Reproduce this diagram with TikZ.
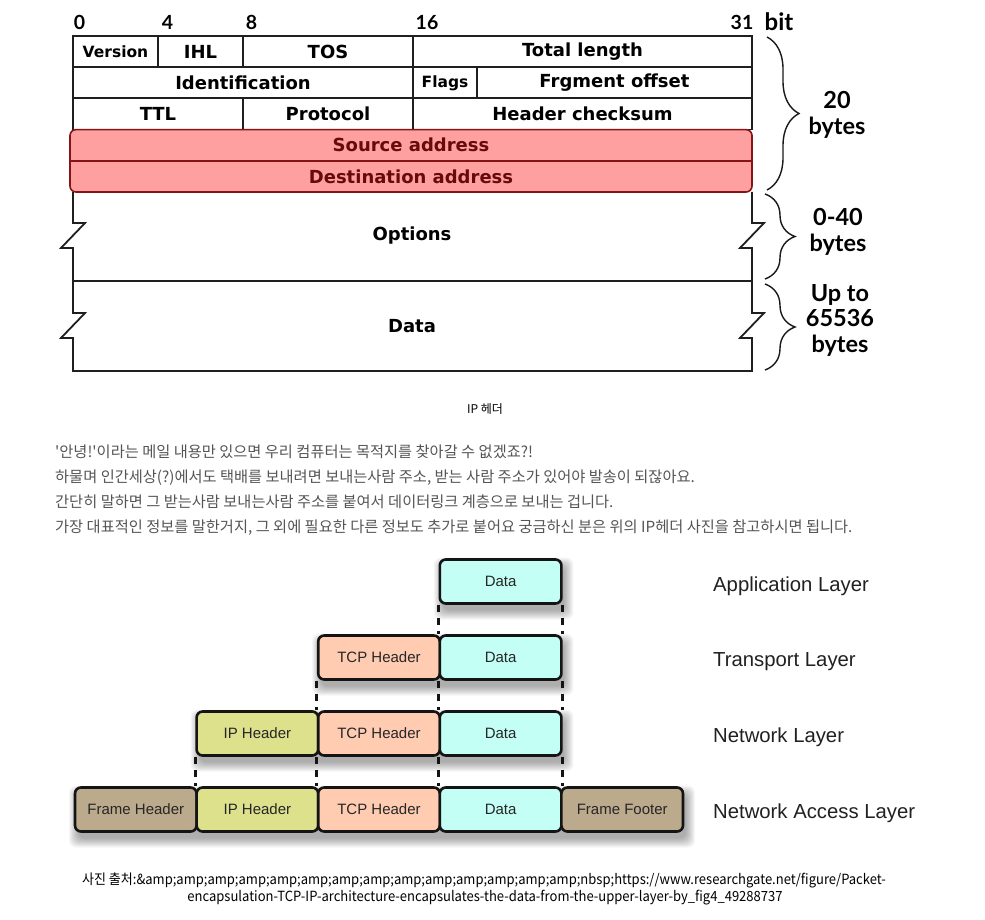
\documentclass[tikz,border=0pt]{standalone}
\usepackage{fontspec}
\setmainfont{DejaVu Sans}
\newfontfamily\verd{DejaVu Sans}
\newfontfamily\latof{Lato}
\newfontfamily\krf[Ligatures=TeXOff]{Noto Sans CJK KR}
\newfontfamily\krcap[FakeStretch=0.93]{Noto Sans CJK KR}
\newfontfamily\arialf{Liberation Sans}
\usetikzlibrary{decorations.pathreplacing}
\definecolor{redfill}{RGB}{255,160,160}
\definecolor{redline}{RGB}{135,20,20}
\definecolor{redtext}{RGB}{105,10,10}
\definecolor{datacol}{RGB}{195,255,245}
\definecolor{tcpcol}{RGB}{255,204,178}
\definecolor{ipcol}{RGB}{221,225,140}
\definecolor{framecol}{RGB}{188,170,140}
\definecolor{kgray}{RGB}{85,85,85}
\newcommand{\softshadow}[4]{%
  \foreach \r in {0,...,9}{%
    \fill[black, opacity=0.035, rounded corners=7pt] ({#1+3-\r},{#2+7-\r}) rectangle ({#3+3+\r},{#4+7+\r});
  }}
\begin{document}
\begin{tikzpicture}[x=1pt,y=-1pt,
 tline/.style={draw=black!88,line width=1.8pt},
 cell/.style={tline, minimum height=31.2pt, inner sep=0pt, font=\verd\bfseries\fontsize{18}{20}\selectfont},
 smallcell/.style={cell, font=\verd\bfseries\fontsize{15.5}{18}\selectfont},
 redcell/.style={minimum height=31.2pt, minimum width=682pt, inner sep=0pt, text=redtext, font=\verd\bfseries\fontsize{18}{20}\selectfont},
 bigtext/.style={inner sep=0pt, font=\verd\bfseries\fontsize{18}{20}\selectfont},
 bitlab/.style={inner sep=0pt, anchor=base, font=\latof\bfseries\fontsize{19.5}{22}\selectfont},
 bytelab/.style={inner sep=0pt, align=center, font=\latof\bfseries\fontsize{23.5}{25.5}\selectfont},
 curly/.style={draw=black!90, line width=1.4pt, decorate, decoration={brace, amplitude=#1}},
 kline/.style={anchor=base west, inner sep=0pt, text=kgray, font=\krf\fontsize{15.27}{18}\selectfont},
 layer/.style={draw=black!92, line width=2.6pt, rounded corners=6pt, minimum width=121.6pt, minimum height=44pt, inner sep=0pt, text=black!85, font=\arialf\fontsize{15}{18}\selectfont},
 dashline/.style={draw=black!92, line width=3pt, dash pattern=on 7pt off 6pt},
 layerlab/.style={anchor=base west, inner sep=0pt, text=black!87, font=\arialf\fontsize{20.3}{23}\selectfont},
 capt/.style={inner sep=0pt, anchor=base, font=\krcap\fontsize{14}{17}\selectfont}
]
\useasboundingbox (0,0) rectangle (985,920);
\fill[white] (0,0) rectangle (985,920);

% bit labels
\node[bitlab] (b0) at (79.5,29.5) {0};
\node[bitlab] (b4) at (167.5,29.5) {4};
\node[bitlab] (b8) at (251.5,29.5) {8};
\node[bitlab] (b16) at (427,29.5) {16};
\node[bitlab] (b31) at (742,29.5) {31};
\node[bitlab, font=\latof\bfseries\fontsize{24}{26}\selectfont] (bit) at (779,31) {bit};

% header rows
\node[smallcell, minimum width=85pt] (ver) at (115.5,51.6) {Version};
\node[cell, minimum width=85pt] (ihl) at (200.5,51.6) {IHL};
\node[cell, minimum width=170pt] (tos) at (328,51.6) {TOS};
\node[cell, minimum width=339pt] (tlen) at (582.5,51.6) {Total length};
\node[cell, minimum width=340pt] (ident) at (243,82.8) {Identification};
\node[smallcell, minimum width=64pt] (flags) at (445,82.8) {Flags};
\node[cell, minimum width=275pt] (frag) at (614.5,82.8) {Frgment offset};
\node[cell, minimum width=170pt] (ttl) at (158,114) {TTL};
\node[cell, minimum width=170pt] (proto) at (328,114) {Protocol};
\node[cell, minimum width=339pt] (chk) at (582.5,114) {Header checksum};

% red address rows
\coordinate (redtl) at (70,129.6);
\coordinate (redbr) at (752,192);
\draw[fill=redfill, draw=redline, line width=1.6pt, rounded corners=6pt] (redtl) rectangle (redbr);
\node[redcell] (src) at (411,145.2) {Source address};
\node[redcell] (dst) at (411,176.4) {Destination address};
\draw[draw=redline, line width=1.6pt] (src.south west) -- (src.south east);

% options and data
\draw[tline] (73,192) -- (73,223) -- (85,223) -- (61,248) -- (73,248) -- (73,313) -- (85,313) -- (61,338) -- (73,338) -- (73,371) -- (752,371) -- (752,338) -- (740,338) -- (764,313) -- (752,313) -- (752,248) -- (740,248) -- (764,223) -- (752,223) -- (752,192);
\draw[tline] (73,281) -- (752,281);
\node[bigtext] (opt) at (412,235.5) {Options};
\node[bigtext] (dat) at (412,326.5) {Data};

% braces
\coordinate (br1a) at (767,37);
\coordinate (br1b) at (767,190);
\coordinate (br2a) at (765,194);
\coordinate (br2b) at (765,279);
\coordinate (br3a) at (765,284);
\coordinate (br3b) at (765,370);
\draw[curly=32pt] (br1a) -- (br1b);
\draw[curly=30pt] (br2a) -- (br2b);
\draw[curly=30pt] (br3a) -- (br3b);
\node[bytelab] (l20) at (837,115) {20\\bytes};
\node[bytelab] (l040) at (838,232) {0-40\\bytes};
\node[bytelab] (l655) at (840,320) {Up to\\65536\\bytes};

% caption and text
\node[inner sep=0pt, anchor=base, font=\krf\fontsize{12}{14}\selectfont] (cap) at (485,413.5) {IP 헤더};
\node[kline] (k1) at (55,457.5) {'안녕!'이라는 메일 내용만 있으면 우리 컴퓨터는 목적지를 찾아갈 수 없겠죠?!};
\node[kline] (k2) at (55,482.5) {하물며 인간세상(?)에서도 택배를 보내려면 보내는사람 주소, 받는 사람 주소가 있어야 발송이 되잖아요.};
\node[kline] (k3) at (55,507.5) {간단히 말하면 그 받는사람 보내는사람 주소를 붙여서 데이터링크 계층으로 보내는 겁니다.};
\node[kline] (k4) at (55,532.5) {가장 대표적인 정보를 말한거지, 그 외에 필요한 다른 정보도 추가로 붙어요 궁금하신 분은 위의 IP헤더 사진을 참고하시면 됩니다.};

% encapsulation diagram shadows
\softshadow{439.8}{559.5}{561.4}{603.5}
\softshadow{318.2}{635.5}{561.4}{679.5}
\softshadow{196.6}{711.5}{561.4}{755.5}
\softshadow{75}{787.5}{683}{831.5}

% boxes
\node[layer, fill=datacol] (a4) at (500.6,581.5) {Data};
\node[layer, fill=tcpcol] (t3) at (379,657.5) {TCP Header};
\node[layer, fill=datacol] (t4) at (500.6,657.5) {Data};
\node[layer, fill=ipcol] (n2) at (257.4,733.5) {IP Header};
\node[layer, fill=tcpcol] (n3) at (379,733.5) {TCP Header};
\node[layer, fill=datacol] (n4) at (500.6,733.5) {Data};
\node[layer, fill=framecol] (f1) at (135.8,809.5) {Frame Header};
\node[layer, fill=ipcol] (f2) at (257.4,809.5) {IP Header};
\node[layer, fill=tcpcol] (f3) at (379,809.5) {TCP Header};
\node[layer, fill=datacol] (f4) at (500.6,809.5) {Data};
\node[layer, fill=framecol] (f5) at (622.2,809.5) {Frame Footer};

% dashed connectors
\draw[dashline] (a4.south west) -- (t4.north west);
\draw[dashline] (a4.south east) -- (t4.north east);
\draw[dashline] (t3.south west) -- (n3.north west);
\draw[dashline] (t4.south west) -- (n4.north west);
\draw[dashline] (t4.south east) -- (n4.north east);
\draw[dashline] (n2.south west) -- (f2.north west);
\draw[dashline] (n3.south west) -- (f3.north west);
\draw[dashline] (n4.south west) -- (f4.north west);
\draw[dashline] (n4.south east) -- (f4.north east);

% layer labels
\node[layerlab] (lapp) at (713,591) {Application Layer};
\node[layerlab] (ltr) at (713,666) {Transport Layer};
\node[layerlab] (lnet) at (713,742) {Network Layer};
\node[layerlab] (lacc) at (713,818) {Network Access Layer};

% source caption
\node[capt] (c1) at (484,884) {사진 출처:\&amp;amp;amp;amp;amp;amp;amp;amp;amp;amp;amp;amp;amp;amp;nbsp;https://www.researchgate.net/figure/Packet-};
\node[capt] (c2) at (485,901) {encapsulation-TCP-IP-architecture-encapsulates-the-data-from-the-upper-layer-by\_fig4\_49288737};
\end{tikzpicture}
\end{document}
